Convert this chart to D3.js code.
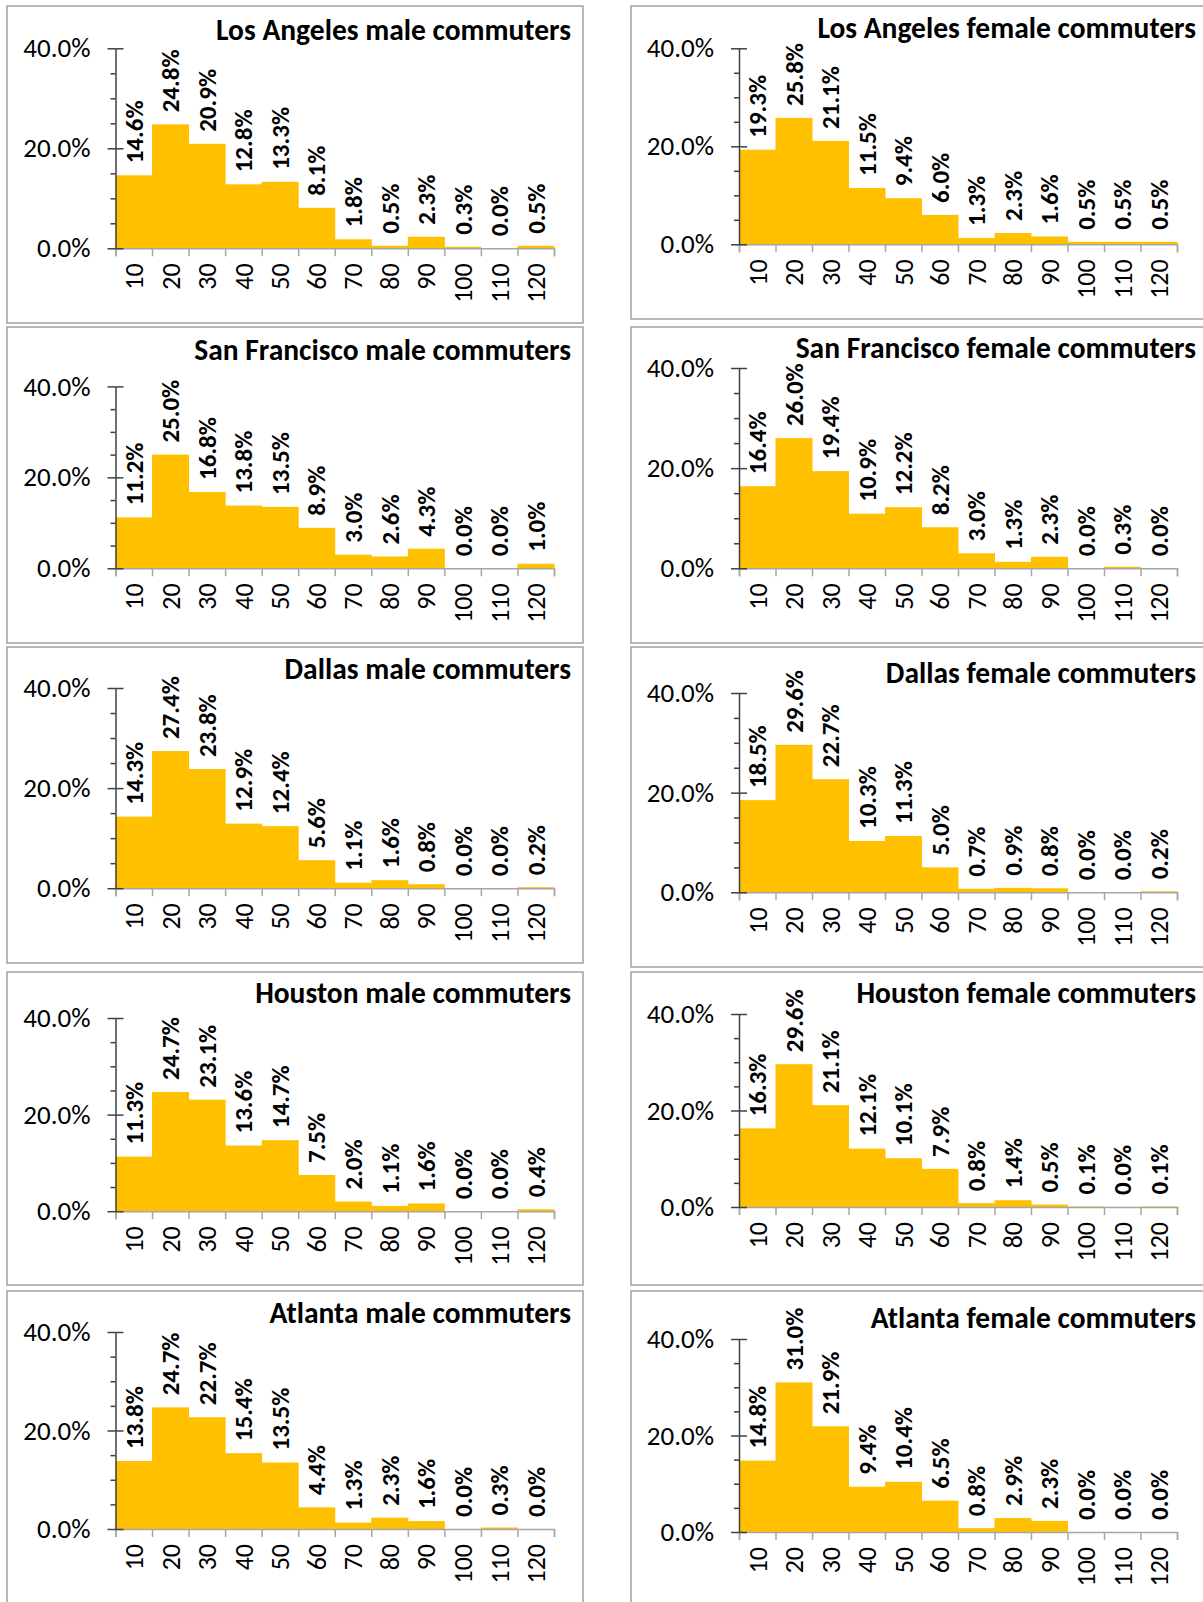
<!DOCTYPE html>
<html>
<head>
<meta charset="utf-8">
<script src="https://cdn.jsdelivr.net/npm/d3@7"></script>
<style>
  html, body { margin: 0; padding: 0; background: #fff; }
  svg { display: block; }
  .title { font-family: Carlito, Calibri, Lato, sans-serif; font-weight: 700; }
  .tick text { font-family: Carlito, Calibri, Lato, sans-serif; }
  .val { font-family: Carlito, Calibri, Lato, sans-serif; font-weight: 700; }
</style>
</head>
<body>
<svg id="chart" width="1203" height="1602"></svg>
<script>
// Commute length bins (minutes)
const categories = ["10","20","30","40","50","60","70","80","90","100","110","120"];

// Share of commuters per bin, percent
const laMale        = [14.6, 24.8, 20.9, 12.8, 13.3, 8.1, 1.8, 0.5, 2.3, 0.3, 0.0, 0.5];
const laFemale      = [19.3, 25.8, 21.1, 11.5, 9.4, 6.0, 1.3, 2.3, 1.6, 0.5, 0.5, 0.5];
const sfMale        = [11.2, 25.0, 16.8, 13.8, 13.5, 8.9, 3.0, 2.6, 4.3, 0.0, 0.0, 1.0];
const sfFemale      = [16.4, 26.0, 19.4, 10.9, 12.2, 8.2, 3.0, 1.3, 2.3, 0.0, 0.3, 0.0];
const dallasMale    = [14.3, 27.4, 23.8, 12.9, 12.4, 5.6, 1.1, 1.6, 0.8, 0.0, 0.0, 0.2];
const dallasFemale  = [18.5, 29.6, 22.7, 10.3, 11.3, 5.0, 0.7, 0.9, 0.8, 0.0, 0.0, 0.2];
const houstonMale   = [11.3, 24.7, 23.1, 13.6, 14.7, 7.5, 2.0, 1.1, 1.6, 0.0, 0.0, 0.4];
const houstonFemale = [16.3, 29.6, 21.1, 12.1, 10.1, 7.9, 0.8, 1.4, 0.5, 0.1, 0.0, 0.1];
const atlantaMale   = [13.8, 24.7, 22.7, 15.4, 13.5, 4.4, 1.3, 2.3, 1.6, 0.0, 0.3, 0.0];
const atlantaFemale = [14.8, 31.0, 21.9, 9.4, 10.4, 6.5, 0.8, 2.9, 2.3, 0.0, 0.0, 0.0];

const titles = [
  "Los Angeles male commuters", "Los Angeles female commuters",
  "San Francisco male commuters", "San Francisco female commuters",
  "Dallas male commuters", "Dallas female commuters",
  "Houston male commuters", "Houston female commuters",
  "Atlanta male commuters", "Atlanta female commuters"
];
const series = [laMale, laFemale, sfMale, sfFemale, dallasMale, dallasFemale,
                houstonMale, houstonFemale, atlantaMale, atlantaFemale];

const yMajorTicks = [0, 20, 40];
const yMinorTicks = [5, 10, 15, 25, 30, 35];

// Panel geometry: frame box, plot top (40%) and bottom (0%), title baseline
const columns = [
  { frameX0: 7,   frameX1: 583,  axisX: 115.5, plotX1: 554,  titleX: 571 },
  { frameX0: 631, frameX1: 1215, axisX: 739,   plotX1: 1177, titleX: 1196 }
];
const panelLayout = [
  { col: 0, fy0: 6,    fy1: 323,  y40: 48.3,  y0: 248.3,  ty: 40 },
  { col: 1, fy0: 6,    fy1: 319,  y40: 48.3,  y0: 244.3,  ty: 38 },
  { col: 0, fy0: 327,  fy1: 643,  y40: 386.4, y0: 568.3,  ty: 360 },
  { col: 1, fy0: 327,  fy1: 643,  y40: 368,   y0: 568.3,  ty: 358 },
  { col: 0, fy0: 647,  fy1: 963,  y40: 688,   y0: 888.2,  ty: 679 },
  { col: 1, fy0: 647,  fy1: 967,  y40: 693,   y0: 892.3,  ty: 683 },
  { col: 0, fy0: 972,  fy1: 1285, y40: 1018,  y0: 1211.2, ty: 1003 },
  { col: 1, fy0: 972,  fy1: 1285, y40: 1014,  y0: 1207,   ty: 1003 },
  { col: 0, fy0: 1291, fy1: 1620, y40: 1332,  y0: 1529,   ty: 1323 },
  { col: 1, fy0: 1291, fy1: 1620, y40: 1339,  y0: 1532,   ty: 1328 }
];

const BAR = "#FFC000";
const svg = d3.select("#chart");
const pct = d => d3.format(".1f")(d) + "%";

series.forEach((values, i) => {
  const L = panelLayout[i];
  const C = columns[L.col];
  const g = svg.append("g");

  // chart frame
  g.append("rect")
    .attr("x", C.frameX0).attr("y", L.fy0)
    .attr("width", C.frameX1 - C.frameX0).attr("height", L.fy1 - L.fy0)
    .attr("fill", "#fff").attr("stroke", "#a0a0a0").attr("stroke-width", 1.5);

  const x = d3.scaleBand().domain(categories).range([C.axisX, C.plotX1]).padding(0);
  const xEdges = d3.scaleLinear().domain([0, categories.length]).range([C.axisX, C.plotX1]);
  const y = d3.scaleLinear().domain([0, 40]).range([L.y0, L.y40]);

  // bars
  g.append("g").selectAll("rect").data(values).join("rect")
    .attr("x", (d, j) => x(categories[j]))
    .attr("y", d => y(d))
    .attr("width", x.bandwidth() + 0.5)
    .attr("height", d => y(0) - y(d))
    .attr("fill", BAR);

  // x axis: boundary ticks
  const xTickG = g.append("g").attr("transform", `translate(0,${y(0)})`)
    .call(d3.axisBottom(xEdges).tickValues(d3.range(categories.length + 1))
      .tickSize(8).tickFormat(""));
  xTickG.select(".domain").attr("stroke", "#a6a6a6").attr("stroke-width", 1.5);
  xTickG.selectAll(".tick line").attr("stroke", "#a6a6a6").attr("stroke-width", 1.5);

  // x axis: category labels, rotated
  const xLabG = g.append("g").attr("transform", `translate(0,${y(0)})`)
    .call(d3.axisBottom(x).tickSize(0));
  xLabG.select(".domain").remove();
  xLabG.selectAll(".tick text")
    .attr("transform", "rotate(-90)")
    .attr("text-anchor", "end")
    .attr("x", -15).attr("y", 0).attr("dy", "0.36em")
    .attr("font-size", 26).attr("fill", "#000");

  // y axis: minor ticks
  const yMinG = g.append("g").attr("transform", `translate(${C.axisX},0)`)
    .call(d3.axisLeft(y).tickValues(yMinorTicks).tickSize(5).tickFormat(""));
  yMinG.select(".domain").remove();
  yMinG.selectAll(".tick line").attr("stroke", "#404040").attr("stroke-width", 1.5);

  // y axis: major ticks crossing the axis
  const yMajR = g.append("g").attr("transform", `translate(${C.axisX},0)`)
    .call(d3.axisRight(y).tickValues(yMajorTicks).tickSize(8).tickFormat(""));
  yMajR.select(".domain").remove();
  yMajR.selectAll(".tick line").attr("stroke", "#404040").attr("stroke-width", 1.5);

  const yAx = g.append("g").attr("transform", `translate(${C.axisX},0)`)
    .call(d3.axisLeft(y).tickValues(yMajorTicks).tickSize(8).tickSizeOuter(0)
      .tickPadding(17).tickFormat(pct));
  yAx.select(".domain").attr("stroke", "#404040").attr("stroke-width", 1.5);
  yAx.selectAll(".tick line").attr("stroke", "#404040").attr("stroke-width", 1.5);
  yAx.selectAll(".tick text").attr("font-size", 27).attr("fill", "#000");

  // value labels above each bar
  g.append("g").selectAll("text").data(values).join("text")
    .attr("class", "val")
    .attr("transform", (d, j) =>
      `translate(${x(categories[j]) + x.bandwidth() / 2},${y(d) - 12}) rotate(-90)`)
    .attr("text-anchor", "start")
    .attr("dy", "0.36em")
    .attr("font-size", 25)
    .attr("fill", "#000")
    .text(pct);

  // title
  g.append("text")
    .attr("class", "title")
    .attr("x", C.titleX).attr("y", L.ty)
    .attr("text-anchor", "end")
    .attr("font-size", 29.5)
    .attr("fill", "#000")
    .text(titles[i]);
});
</script>
</body>
</html>
